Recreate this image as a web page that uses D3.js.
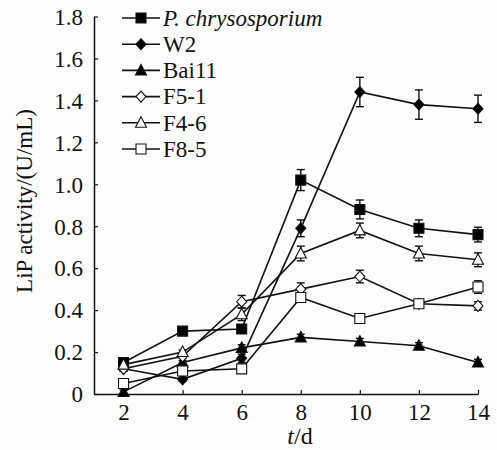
<!DOCTYPE html>
<html>
<head>
<meta charset="utf-8">
<script src="https://cdn.jsdelivr.net/npm/d3@7"></script>
<style>
  body { margin: 0; background: #fdfdfd; }
  svg, svg text { font-family: "Liberation Serif", "Times New Roman", Times, serif; }
</style>
</head>
<body>
<script>
// days sampled
var days = [2, 4, 6, 8, 10, 12, 14];

var seriesNames = ['P. chrysosporium', 'W2', 'Bai11', 'F5-1', 'F4-6', 'F8-5'];

// LiP activity (U/mL)
var pChry = [0.15, 0.30, 0.31, 1.02, 0.88, 0.79, 0.76];
var w2    = [0.12, 0.07, 0.17, 0.79, 1.44, 1.38, 1.36];
var bai11 = [0.01, 0.15, 0.22, 0.27, 0.25, 0.23, 0.15];
var f51   = [0.12, 0.18, 0.44, 0.50, 0.56, 0.43, 0.42];
var f46   = [0.14, 0.20, 0.38, 0.67, 0.78, 0.67, 0.64];
var f85   = [0.05, 0.11, 0.12, 0.46, 0.36, 0.43, 0.51];

// error bars (+/-)
var pChryErr = [0.01, 0.01, 0.02, 0.05, 0.045, 0.04, 0.035];
var w2Err    = [0.01, 0.01, 0.02, 0.04, 0.07, 0.07, 0.065];
var bai11Err = [0.01, 0.01, 0.015, 0.015, 0.015, 0.015, 0.015];
var f51Err   = [0.01, 0.01, 0.03, 0.03, 0.03, 0.01, 0.02];
var f46Err   = [0.01, 0.01, 0.03, 0.035, 0.035, 0.035, 0.033];
var f85Err   = [0.01, 0.01, 0.01, 0.01, 0.01, 0.01, 0.03];

var yTicks = [0, 0.2, 0.4, 0.6, 0.8, 1.0, 1.2, 1.4, 1.6, 1.8];
var xTicks = [2, 4, 6, 8, 10, 12, 14];

var series = [
  {name: seriesNames[0], values: pChry, err: pChryErr, shape: 'square', fill: 'black'},
  {name: seriesNames[1], values: w2, err: w2Err, shape: 'diamond', fill: 'black'},
  {name: seriesNames[2], values: bai11, err: bai11Err, shape: 'triangle', fill: 'black'},
  {name: seriesNames[3], values: f51, err: f51Err, shape: 'diamond', fill: 'white'},
  {name: seriesNames[4], values: f46, err: f46Err, shape: 'triangle', fill: 'white'},
  {name: seriesNames[5], values: f85, err: f85Err, shape: 'square', fill: 'white'}
];

var font = '"Liberation Serif", "Times New Roman", Times, serif';
var width = 497, height = 450;
var svg = d3.select('body').append('svg').attr('width', width).attr('height', height)
  .attr('font-family', font);

var x = d3.scaleLinear().domain([1, 14]).range([94, 478]);
var y = d3.scaleLinear().domain([0, 1.8]).range([394, 16.5]);

// marker paths
function markerPath(shape) {
  if (shape == 'square') return 'M-5,-5H5V5H-5Z';
  if (shape == 'diamond') return 'M0,-5.5L5,0L0,5.5L-5,0Z';
  return 'M0,-6L5.5,4.5H-5.5Z';
}

// axes
var yAxis = d3.axisLeft(y).tickValues(yTicks).tickSizeInner(-4).tickSizeOuter(0).tickPadding(11)
  .tickFormat(function (d) { return d == 0 ? '0' : d3.format('.1f')(d); });
var xAxis = d3.axisBottom(x).tickValues(xTicks).tickSizeInner(-4).tickSizeOuter(0).tickPadding(10);

var gy = svg.append('g').attr('transform', 'translate(94,0)').call(yAxis);
var gx = svg.append('g').attr('transform', 'translate(0,394)').call(xAxis);

[gx, gy].forEach(function (g) {
  g.attr('font-family', font).attr('font-size', 23);
  g.select('.domain').attr('stroke', '#111').attr('stroke-width', 1.5);
  g.selectAll('.tick line').attr('stroke', '#111').attr('stroke-width', 1.2);
  g.selectAll('.tick text').attr('fill', '#111');
});
gy.selectAll('.tick text').attr('dy', '0.34em');
gx.selectAll('.tick text').attr('dy', '0.71em');

// axis titles
svg.append('text')
  .attr('transform', 'translate(32,201) rotate(-90)')
  .attr('text-anchor', 'middle')
  .attr('font-size', 23)
  .attr('fill', '#111')
  .text('LiP activity/(U/mL)');

var xt = svg.append('text')
  .attr('x', 300).attr('y', 444)
  .attr('text-anchor', 'middle')
  .attr('font-size', 24)
  .attr('fill', '#111');
xt.append('tspan').attr('font-style', 'italic').text('t');
xt.append('tspan').text('/d');

var line = d3.line()
  .x(function (d, i) { return x(days[i]); })
  .y(function (d) { return y(d); });

// lines first, then error bars and markers
series.forEach(function (s) {
  svg.append('path')
    .datum(s.values)
    .attr('d', line)
    .attr('fill', 'none')
    .attr('stroke', '#111')
    .attr('stroke-width', 1.6);
});

series.forEach(function (s) {
  var g = svg.append('g');
  s.values.forEach(function (v, i) {
    var cx = x(days[i]);
    var top = y(v + s.err[i]), bot = y(v - s.err[i]);
    g.append('line').attr('x1', cx).attr('x2', cx).attr('y1', top).attr('y2', bot)
      .attr('stroke', '#111').attr('stroke-width', 1.4);
    [top, bot].forEach(function (yy) {
      g.append('line').attr('x1', cx - 4).attr('x2', cx + 4).attr('y1', yy).attr('y2', yy)
        .attr('stroke', '#111').attr('stroke-width', 1.4);
    });
    g.append('path')
      .attr('d', markerPath(s.shape))
      .attr('transform', 'translate(' + cx + ',' + y(v) + ')')
      .attr('fill', s.fill)
      .attr('stroke', '#111')
      .attr('stroke-width', 1.1);
  });
});

// legend
var legend = svg.append('g');
series.forEach(function (s, i) {
  var ly = 18 + i * 26.2;
  legend.append('line').attr('x1', 122).attr('x2', 160).attr('y1', ly).attr('y2', ly)
    .attr('stroke', '#111').attr('stroke-width', 1.6);
  legend.append('path')
    .attr('d', markerPath(s.shape))
    .attr('transform', 'translate(141,' + ly + ')')
    .attr('fill', s.fill)
    .attr('stroke', '#111')
    .attr('stroke-width', 1.1);
  legend.append('text')
    .attr('x', 163).attr('y', ly).attr('dy', '0.34em')
    .attr('font-size', 23)
    .attr('fill', '#111')
    .attr('font-style', i == 0 ? 'italic' : 'normal')
    .text(s.name);
});
</script>
</body>
</html>
